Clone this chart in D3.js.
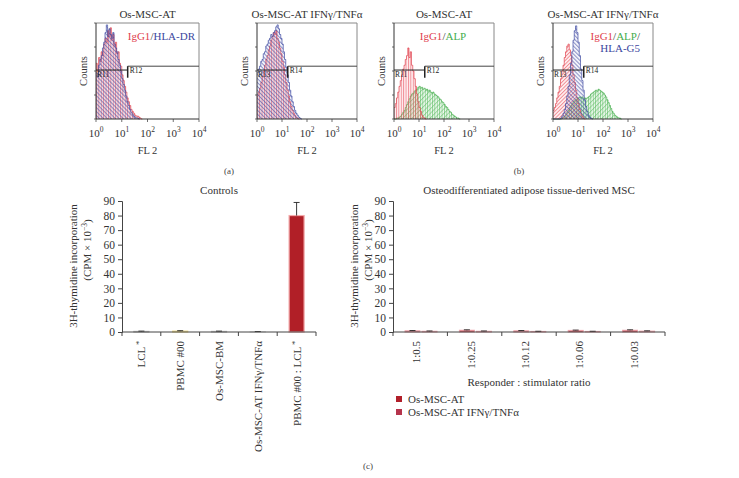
<!DOCTYPE html>
<html><head><meta charset="utf-8">
<script src="https://cdn.jsdelivr.net/npm/d3@7"></script>
<style>body{margin:0;background:#fff}svg{display:block;font-family:"Liberation Serif","DejaVu Serif",serif}</style>
</head><body><svg id="c" width="739" height="478"></svg>
<script>
// ---------- DATA ----------
const histTitles = ["Os-MSC-AT", "Os-MSC-AT IFNγ/TNFα", "Os-MSC-AT", "Os-MSC-AT IFNγ/TNFα"];
const decadeTicks = [1, 10, 100, 1000, 10000];
const decadeExp = ["0", "1", "2", "3", "4"];
const countTicks = [0, 25, 50, 75, 100];
const binStep = 0.05; // log10 decades per bin
const p1Red  = [58,50,64,60,70,66,78,84,80,92,86,95,82,88,76,80,68,70,58,55,46,40,34,28,22,18,14,10,8,6,4,3,3,2,1,0];
const p1Blue = [48,44,56,62,66,74,80,90,98,86,94,88,84,90,78,74,70,62,56,50,42,36,30,24,18,14,10,7,5,3,2,1,1,0];
const p2Red  = [24,28,32,38,44,50,56,62,66,72,76,82,86,90,88,92,84,80,74,68,60,54,46,38,30,24,18,13,9,6,4,2,1,0];
const p2Blue = [48,52,55,60,62,68,70,76,78,82,84,88,86,90,92,96,98,94,88,84,78,70,62,54,46,38,30,24,18,13,9,6,4,2,1,0];
const p3Red  = [12,16,22,28,34,40,46,52,56,62,66,74,64,70,56,50,42,34,26,18,12,8,4,2,1,0];
const p3Green= [0,0,1,1,2,3,5,7,9,12,15,18,21,24,26,27,29,30,31,33,34,32,33,31,32,30,31,29,30,28,27,28,26,25,24,23,21,20,18,17,15,13,12,10,8,7,5,4,3,2,1,1,0];
const p4Red  = [9,12,16,22,28,34,42,50,56,64,70,76,78,72,66,56,46,38,30,22,16,10,6,3,1,0];
const p4Blue = [0,0,0,0,0,0,1,3,6,10,16,24,34,46,58,70,82,92,97,90,80,66,52,40,30,20,13,8,4,2,1,0];
const p4Green= [0,0,0,0,0,0,0,1,2,3,5,7,9,12,14,16,18,19,20,21,22,23,22,23,21,22,21,22,23,24,26,27,28,29,30,29,31,30,29,28,27,25,23,20,17,14,11,8,6,4,3,2,1,1,0];
const gateNames = [["R11","R12"],["R13","R14"],["R11","R12"],["R13","R14"]];
const gateCut = 17;          // FL2 value of gate split
const gateLow = 51, gateHigh = 55, gateDrop = 43; // counts levels

const controlCats = ["LCL*", "PBMC #00", "Os-MSC-BM", "Os-MSC-AT IFNγ/TNFα", "PBMC #00 : LCL*"];
const controlVals = [0.4, 0.6, 0.4, 0.2, 80];
const controlErr  = [0.2, 0.3, 0.2, 0.1, 9];
const ratioCats = ["1:0.5", "1:0.25", "1:0.12", "1:0.06", "1:0.03"];
const seriesNames = ["Os-MSC-AT", "Os-MSC-AT IFNγ/TNFα"];
const atVals  = [0.8, 1.2, 0.8, 1.1, 1.2];
const atErr   = [0.2, 0.3, 0.2, 0.2, 0.3];
const ifnVals = [0.5, 0.5, 0.4, 0.4, 0.6];
const ifnErr  = [0.2, 0.2, 0.1, 0.1, 0.2];
const yTicks = [0,10,20,30,40,50,60,70,80,90];

// ---------- DRAW ----------
const INK = "#333";
const svg = d3.select("#c");
svg.append("rect").attr("width",739).attr("height",478).attr("fill","#fff");
const defs = svg.append("defs");
function pat(id, color, w, angle, sw){
  const p = defs.append("pattern").attr("id",id).attr("patternUnits","userSpaceOnUse")
    .attr("width",w).attr("height",w).attr("patternTransform",`rotate(${angle})`);
  p.append("line").attr("x1",0.5).attr("x2",0.5).attr("y1",0).attr("y2",w)
    .attr("stroke",color).attr("stroke-width",sw);
}
pat("vRed","#e8505c",2.4,0,0.6);
pat("dRed","#e8505c",2.6,45,0.6);
pat("dBlue","#4a52a8",2.8,-45,0.6);
pat("vGreen","#55b85c",2.4,0,0.6);
pat("dGreen","#55b85c",3.2,45,0.5);

const RED="#e0404c", BLUE="#3c48a0", GREEN="#45ad4d";
const boxes = [{x0:96,x1:199},{x0:257,x1:357},{x0:394,x1:494},{x0:553,x1:653}];
const hy0 = 23, hy1 = 119;
const panels = [
  [{d:p1Red,c:RED,f:"vRed",t:"rgba(245,150,160,0.18)"},{d:p1Blue,c:BLUE,f:"dBlue",t:"rgba(120,130,200,0.1)"}],
  [{d:p2Red,c:RED,f:"vRed",t:"rgba(245,150,160,0.18)"},{d:p2Blue,c:BLUE,f:"dBlue",t:"rgba(120,130,200,0.1)"}],
  [{d:p3Green,c:GREEN,f:"vGreen",t:"rgba(140,210,140,0.12)",g:"dGreen"},{d:p3Red,c:RED,f:"vRed",t:"rgba(245,150,160,0.15)"}],
  [{d:p4Green,c:GREEN,f:"vGreen",t:"rgba(140,210,140,0.12)",g:"dGreen"},{d:p4Red,c:RED,f:"dRed",t:"rgba(245,150,160,0.15)"},{d:p4Blue,c:BLUE,f:"dBlue",t:"rgba(120,130,200,0.1)"}]
];

boxes.forEach((b,i)=>{
  const x = d3.scaleLog().domain([1,10000]).range([b.x0,b.x1]);
  const y = d3.scaleLinear().domain([0,100]).range([hy1,hy0]);
  const g = svg.append("g");
  const area = d3.area().curve(d3.curveStepAfter)
    .x(d=>x(d[0])).y0(y(0)).y1(d=>y(d[1]));
  const line = d3.line().curve(d3.curveStepAfter).x(d=>x(d[0])).y(d=>y(d[1]));
  panels[i].forEach(s=>{
    const pts = s.d.map((v,k)=>[Math.pow(10,k*binStep),v]);
    pts.push([Math.pow(10,s.d.length*binStep), s.d[s.d.length-1]]);
    g.append("path").attr("d",area(pts)).attr("fill",s.t);
    g.append("path").attr("d",area(pts)).attr("fill",`url(#${s.f})`);
    if(s.g) g.append("path").attr("d",area(pts)).attr("fill",`url(#${s.g})`);
    g.append("path").attr("d",line(pts)).attr("fill","none").attr("stroke",s.c).attr("stroke-width",0.8).attr("stroke-opacity",0.85);
  });
  // frame
  g.append("line").attr("x1",b.x0).attr("x2",b.x1).attr("y1",hy0).attr("y2",hy0).attr("stroke","#888").attr("stroke-width",1);
  g.append("line").attr("x1",b.x1).attr("x2",b.x1).attr("y1",hy0).attr("y2",hy1).attr("stroke","#888").attr("stroke-width",1);
  g.append("line").attr("x1",b.x0).attr("x2",b.x0).attr("y1",hy0).attr("y2",hy1).attr("stroke",INK);
  g.append("line").attr("x1",b.x0).attr("x2",b.x1).attr("y1",hy1).attr("y2",hy1).attr("stroke",INK);
  countTicks.forEach(t=>g.append("line").attr("x1",b.x0-2).attr("x2",b.x0).attr("y1",y(t)).attr("y2",y(t)).attr("stroke",INK).attr("stroke-width",0.7));
  decadeTicks.forEach((t,k)=>{
    g.append("line").attr("x1",x(t)).attr("x2",x(t)).attr("y1",hy1).attr("y2",hy1+3).attr("stroke",INK).attr("stroke-width",0.7);
    const tx = g.append("text").attr("x",x(t)).attr("y",137).attr("text-anchor","middle").attr("font-size",11).attr("fill",INK).text("10");
    tx.append("tspan").attr("dy",-5).attr("font-size",7.5).text(decadeExp[k]);
  });
  // gate
  const xc = x(gateCut);
  g.append("line").attr("x1",b.x0).attr("x2",xc).attr("y1",y(gateLow)).attr("y2",y(gateLow)).attr("stroke","#222").attr("stroke-width",1);
  g.append("line").attr("x1",xc).attr("x2",b.x1).attr("y1",y(gateHigh)).attr("y2",y(gateHigh)).attr("stroke","#444").attr("stroke-width",1);
  g.append("line").attr("x1",xc).attr("x2",xc).attr("y1",y(gateHigh)).attr("y2",y(gateDrop)).attr("stroke","#222").attr("stroke-width",1.5);
  g.append("text").attr("x",b.x0+1).attr("y",y(gateLow)+7).attr("font-size",7.5).attr("fill","#222").text(gateNames[i][0]);
  g.append("text").attr("x",xc+2).attr("y",y(gateHigh)+7).attr("font-size",7.5).attr("fill","#222").text(gateNames[i][1]);
  // titles
  g.append("text").attr("x",(b.x0+b.x1)/2).attr("y",18).attr("text-anchor","middle").attr("font-size",11).attr("fill",INK).text(histTitles[i]);
  g.append("text").attr("x",(b.x0+b.x1)/2).attr("y",154).attr("text-anchor","middle").attr("font-size",10.5).attr("fill",INK).text("FL 2");
  g.append("text").attr("transform",`translate(${b.x0-9},71) rotate(-90)`).attr("text-anchor","middle").attr("font-size",10.5).attr("fill",INK).text("Counts");
});

// histogram legends
function legendText(x,y,parts,anchor){
  const t = svg.append("text").attr("x",x).attr("y",y).attr("text-anchor",anchor).attr("font-size",11);
  parts.forEach(p=>t.append("tspan").attr("fill",p[1]).text(p[0]));
}
legendText(195,40,[["IgG1",RED],["/",INK],["HLA-DR",BLUE]],"end");
legendText(443,40,[["IgG1",RED],["/",INK],["ALP",GREEN]],"middle");
legendText(640,40,[["IgG1",RED],["/",INK],["ALP",GREEN],["/",INK]],"end");
legendText(640,52,[["HLA-G5",BLUE]],"end");

svg.append("text").attr("x",229).attr("y",174).attr("text-anchor","middle").attr("font-size",9).attr("fill","#444").text("(a)");
svg.append("text").attr("x",519).attr("y",174).attr("text-anchor","middle").attr("font-size",9).attr("fill","#444").text("(b)");
svg.append("text").attr("x",368).attr("y",469).attr("text-anchor","middle").attr("font-size",9).attr("fill","#444").text("(c)");

// ---------- bar charts ----------
function rotLabel(g, cx, y, label, fs){
  const t = g.append("text").attr("transform",`translate(${cx+4},${y}) rotate(-90)`)
    .attr("text-anchor","end").attr("font-size",fs).attr("fill",INK);
  if(label.endsWith("*")){
    t.append("tspan").text(label.slice(0,-1));
    t.append("tspan").attr("dy",-3).attr("font-size",fs*0.7).text(" *");
  } else t.text(label);
}
function yAxisLabels(x1, x2, cy){
  svg.append("text").attr("transform",`translate(${x1},${cy}) rotate(-90)`).attr("text-anchor","middle").attr("font-size",11).attr("fill",INK).text("3H-thymidine incorporation");
  const t = svg.append("text").attr("transform",`translate(${x2},${cy-16}) rotate(-90)`).attr("text-anchor","middle").attr("font-size",11).attr("fill",INK);
  t.append("tspan").text("(CPM × 10");
  t.append("tspan").attr("dy",-4).attr("font-size",7.5).text("−3");
  t.append("tspan").attr("dy",4).text(")");
}
function drawAxes(g, x, y, cats){
  const ax = d3.axisLeft(y).tickValues(yTicks).tickSize(4).tickPadding(3).tickFormat(d3.format("d"));
  g.append("g").attr("transform",`translate(${x.range()[0]},0)`).call(ax)
    .call(s=>{s.selectAll("text").attr("font-size",11.5).attr("font-family","Liberation Serif").attr("fill",INK);
              s.selectAll("line,path").attr("stroke","#444");});
  g.append("line").attr("x1",x.range()[0]).attr("x2",x.range()[1]).attr("y1",y(0)).attr("y2",y(0)).attr("stroke","#444");
  const bounds = cats.map(c=>x(c)).concat([x.range()[1]]);
  bounds.forEach(bx=>g.append("line").attr("x1",bx).attr("x2",bx).attr("y1",y(0)).attr("y2",y(0)+4).attr("stroke","#444"));
}
function errBar(g, cx, v, e, y){
  g.append("line").attr("x1",cx).attr("x2",cx).attr("y1",y(v)).attr("y2",y(v+e)).attr("stroke","#222").attr("stroke-width",0.9);
  g.append("line").attr("x1",cx-3).attr("x2",cx+3).attr("y1",y(v+e)).attr("y2",y(v+e)).attr("stroke","#222").attr("stroke-width",0.9);
}

// Controls
{
  const g = svg.append("g");
  const x = d3.scaleBand().domain(controlCats).range([122,316]);
  const y = d3.scaleLinear().domain([0,90]).range([332,201]);
  const fills = ["#5a3a3a","#c9a426","#4a3a3a","#b0a8a8","#b11f27"];
  const strokes = ["#bbb","#f0dd90","#bbb","#ddd","#f3a9a9"];
  const bw = 15;
  controlCats.forEach((c,i)=>{
    const cx = x(c)+x.bandwidth()/2;
    g.append("rect").attr("x",cx-bw/2).attr("width",bw).attr("y",y(controlVals[i])).attr("height",y(0)-y(controlVals[i]))
      .attr("fill",fills[i]).attr("stroke",strokes[i]).attr("stroke-width",1.2);
    errBar(g,cx,controlVals[i],controlErr[i],y);
    rotLabel(g,cx,341,c,11);
  });
  drawAxes(g,x,y,controlCats);
  g.append("text").attr("x",219).attr("y",194).attr("text-anchor","middle").attr("font-size",11).attr("fill",INK).text("Controls");
  yAxisLabels(77,91,266);
}
// Ratios
{
  const g = svg.append("g");
  const x = d3.scaleBand().domain(ratioCats).range([393,665]);
  const xs = d3.scaleBand().domain(seriesNames).range([12,44]).paddingInner(0.12);
  const y = d3.scaleLinear().domain([0,90]).range([332,201]);
  const cols = ["#b11f2a","#b5344c"];
  const vals = [atVals, ifnVals], errs = [atErr, ifnErr];
  ratioCats.forEach((c,i)=>{
    seriesNames.forEach((s,k)=>{
      const bx = x(c)+xs(s);
      g.append("rect").attr("x",bx).attr("width",xs.bandwidth()).attr("y",y(vals[k][i])).attr("height",y(0)-y(vals[k][i]))
        .attr("fill",cols[k]).attr("stroke","#f0a6ae").attr("stroke-width",1);
      errBar(g,bx+xs.bandwidth()/2,vals[k][i],errs[k][i],y);
    });
    rotLabel(g,x(c)+x.bandwidth()/2-4,341,c,11);
  });
  drawAxes(g,x,y,ratioCats);
  g.append("text").attr("x",529).attr("y",194).attr("text-anchor","middle").attr("font-size",11).attr("fill",INK).text("Osteodifferentiated adipose tissue-derived MSC");
  g.append("text").attr("x",529).attr("y",386).attr("text-anchor","middle").attr("font-size",11).attr("fill",INK).text("Responder : stimulator ratio");
  yAxisLabels(358,372,266);
  seriesNames.forEach((s,k)=>{
    g.append("rect").attr("x",396).attr("y",396+k*13).attr("width",6).attr("height",6).attr("fill",cols[k]);
    g.append("text").attr("x",408).attr("y",403+k*13).attr("font-size",11).attr("fill",INK).text(s);
  });
}
</script></body></html>
